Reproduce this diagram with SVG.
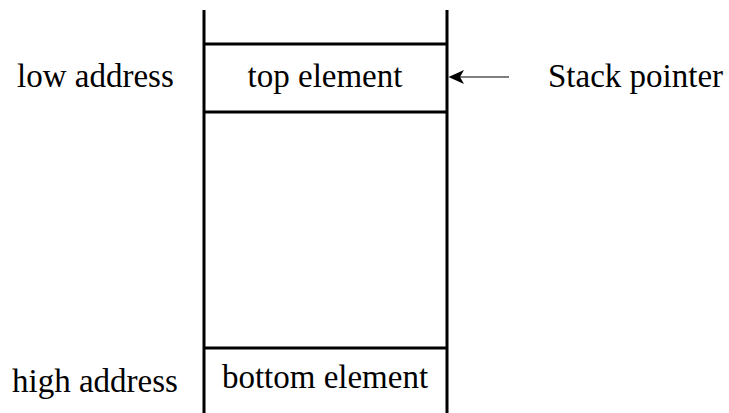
<svg xmlns="http://www.w3.org/2000/svg" width="729" height="413" viewBox="0 0 729 413">
  <style>
    .wall { stroke: #000; stroke-width: 3; fill: none; }
    .lbl { font-family: "Liberation Serif", "Times New Roman", serif; font-size: 33px; fill: #000; }
  </style>
  <rect width="729" height="413" fill="#fff"/>

  <!-- stack frame: side walls and cell dividers -->
  <g id="stack">
    <line class="wall" x1="204" y1="10" x2="204" y2="413"/>
    <line class="wall" x1="447" y1="10" x2="447" y2="413"/>
    <line class="wall" x1="204" y1="44" x2="447" y2="44"/>
    <line class="wall" x1="204" y1="112" x2="447" y2="112"/>
    <line class="wall" x1="204" y1="348" x2="447" y2="348"/>
  </g>

  <g id="top-element">
    <text class="lbl" x="325" y="87" text-anchor="middle">top element</text>
  </g>
  <g id="bottom-element">
    <text class="lbl" x="325" y="388" text-anchor="middle">bottom element</text>
  </g>
  <g id="low-address">
    <text class="lbl" x="17" y="87">low address</text>
  </g>
  <g id="high-address">
    <text class="lbl" x="12" y="392">high address</text>
  </g>
  <g id="stack-pointer">
    <text class="lbl" x="548" y="87">Stack pointer</text>
  </g>

  <!-- pointer arrow into the top cell -->
  <g id="connectors">
    <line x1="509" y1="77" x2="460" y2="77" stroke="#000" stroke-width="1.2"/>
    <polygon points="448.5,77 464,70 460,77 464,84" fill="#000"/>
  </g>
</svg>
